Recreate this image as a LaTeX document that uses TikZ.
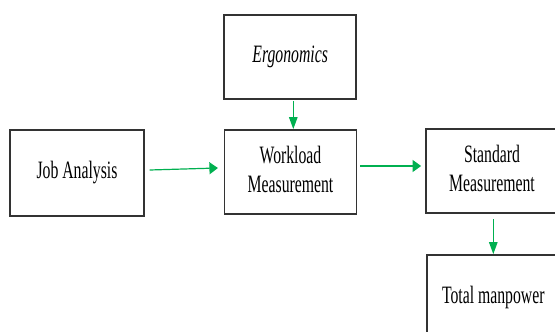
\documentclass[tikz,border=0pt]{standalone}
\usepackage{fontspec}
\setmainfont{Liberation Serif}
\usetikzlibrary{arrows.meta}
\definecolor{flowgreen}{RGB}{0,176,80}
\newcommand{\narrow}[1]{\scalebox{0.63}[1]{#1}}

\begin{document}
\begin{tikzpicture}[x=1pt, y=-1pt,
  box/.style={draw=black!80, line width=1.8pt, minimum width=132pt, minimum height=84pt,
    inner sep=0pt, align=center, font=\fontsize{25}{29}\selectfont},
  hflow/.style={draw=flowgreen, line width=1.2pt, -{Triangle[length=8.5pt,width=12pt]}},
  vflow/.style={draw=flowgreen, line width=1.2pt, -{Triangle[length=12pt,width=8.5pt]}}]
  \useasboundingbox (0,0) rectangle (555,332);
  \fill[white] (0,0) rectangle (555,332);
  \clip (0,0) rectangle (555,332);

  \node[box] (ergo) at (290.2,57) {\narrow{\textit{Ergonomics}}};
  \node[box, minimum width=134pt, minimum height=86pt] (job) at (77,173) {\narrow{Job Analysis}};
  \node[box] (work) at (290.5,172) {\narrow{\begin{tabular}{@{}c@{}}Workload\\Measurement\end{tabular}}};
  \node[box] (std) at (492,171) {\narrow{\begin{tabular}{@{}c@{}}Standard\\Measurement\end{tabular}}};
  \node[box] (total) at (493.3,297) {\narrow{Total manpower}};

  \draw[hflow] ([shift={(4.7,-3)}]job.east) -- ([shift={(-5.7,-4)}]work.west);
  \draw[hflow] ([shift={(2.7,-6)}]work.east) -- ([shift={(-4,-5)}]std.west);
  \draw[vflow] ([shift={(3.1,1)}]ergo.south) -- ([shift={(2.8,0)}]work.north);
  \draw[vflow] ([shift={(1.3,5.3)}]std.south) -- (total.north);
\end{tikzpicture}
\end{document}
